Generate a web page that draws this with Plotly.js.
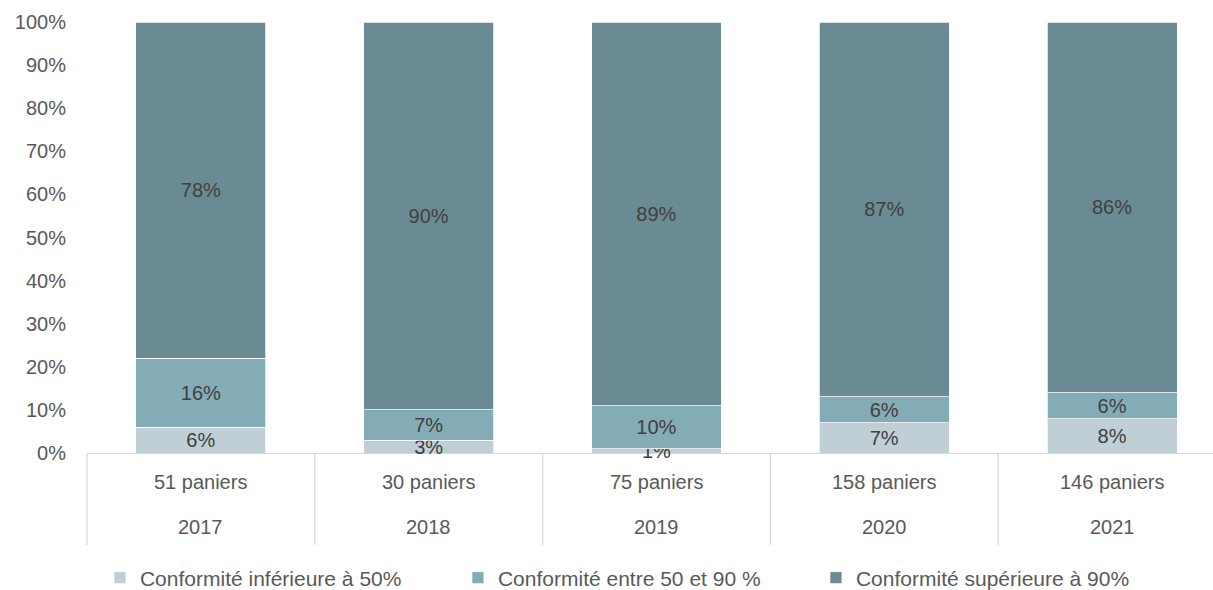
<!DOCTYPE html>
<html>
<head>
<meta charset="utf-8">
<script src="https://cdn.plot.ly/plotly-3.0.1.min.js"></script>
<style>html,body{margin:0;padding:0;background:#fff;}#chart{width:1213px;height:590px;}</style>
</head>
<body>
<div id="chart"></div>
<script>
var years = ["2017", "2018", "2019", "2020", "2021"];
var paniers = ["51 paniers", "30 paniers", "75 paniers", "158 paniers", "146 paniers"];
var seriesNames = ["Conformité inférieure à 50%", "Conformité entre 50 et 90 %", "Conformité supérieure à 90%"];
var low = [6, 3, 1, 7, 8];
var mid = [16, 7, 10, 6, 6];
var high = [78, 90, 89, 87, 86];
var yTicks = [0, 10, 20, 30, 40, 50, 60, 70, 80, 90, 100];

var colors = ["#BFCFD5", "#84ACB6", "#6B8B94"];
var FONT = "Liberation Sans, Arial, sans-serif";
var xr = [-0.5, 4.443];

function mk(name, vals, color) {
  return {
    type: "bar", name: name, x: years, y: vals,
    marker: {color: color, line: {color: "#ffffff", width: 0.75}},
    width: 0.57,
    text: vals.map(function (v) { return v + "%"; }),
    textinfo: "text",
    textposition: "inside",
    insidetextanchor: "middle",
    constraintext: "none",
    cliponaxis: false,
    textfont: {family: FONT, size: 20, color: "#404040"},
    hoverinfo: "skip"
  };
}
var data = [mk(seriesNames[0], low, colors[0]), mk(seriesNames[1], mid, colors[1]), mk(seriesNames[2], high, colors[2])];

function px(v) { return (v - xr[0]) / (xr[1] - xr[0]); }
var shapes = [];
for (var i = 0; i <= years.length; i++) {
  var xv = px(i - 0.5);
  if (xv > 1) continue;
  shapes.push({type: "line", xref: "paper", yref: "paper", x0: xv, x1: xv, y0: 0, y1: -0.2135,
    layer: "below", line: {color: "#d9d9d9", width: 1.3}});
}
var annotations = [];
years.forEach(function (y, i) {
  annotations.push({x: i, xref: "x", yref: "paper", y: -0.0673, text: paniers[i], showarrow: false,
    font: {family: FONT, size: 20, color: "#595959"}, yanchor: "middle"});
  annotations.push({x: i, xref: "x", yref: "paper", y: -0.1717, text: y, showarrow: false,
    font: {family: FONT, size: 20, color: "#595959"}, yanchor: "middle"});
});

var layout = {
  width: 1213, height: 590,
  margin: {l: 87, r: 0, t: 22, b: 137, autoexpand: false},
  barmode: "stack",
  paper_bgcolor: "#ffffff", plot_bgcolor: "#ffffff",
  font: {family: FONT, size: 20, color: "#595959"},
  hovermode: false,
  showlegend: true,
  xaxis: {type: "category", range: xr, showticklabels: false, showgrid: false, zeroline: false,
    showline: true, linecolor: "#d9d9d9", linewidth: 1.3, ticks: "", automargin: false, layer: "below traces"},
  yaxis: {range: [0, 100], tickvals: yTicks, ticktext: yTicks.map(function (v) { return v + "%"; }),
    showgrid: false, zeroline: false, showline: false, ticks: "", ticklabelstandoff: 20, automargin: false,
    tickfont: {family: FONT, size: 20, color: "#595959"}},
  legend: {orientation: "h", x: 0.0115, xanchor: "left", y: -0.29, yanchor: "middle",
    traceorder: "normal", entrywidth: 313, font: {family: FONT, size: 21, color: "#595959"}},
  shapes: shapes,
  annotations: annotations
};
Plotly.newPlot("chart", data, layout, {displayModeBar: false, staticPlot: true});
</script>
</body>
</html>
